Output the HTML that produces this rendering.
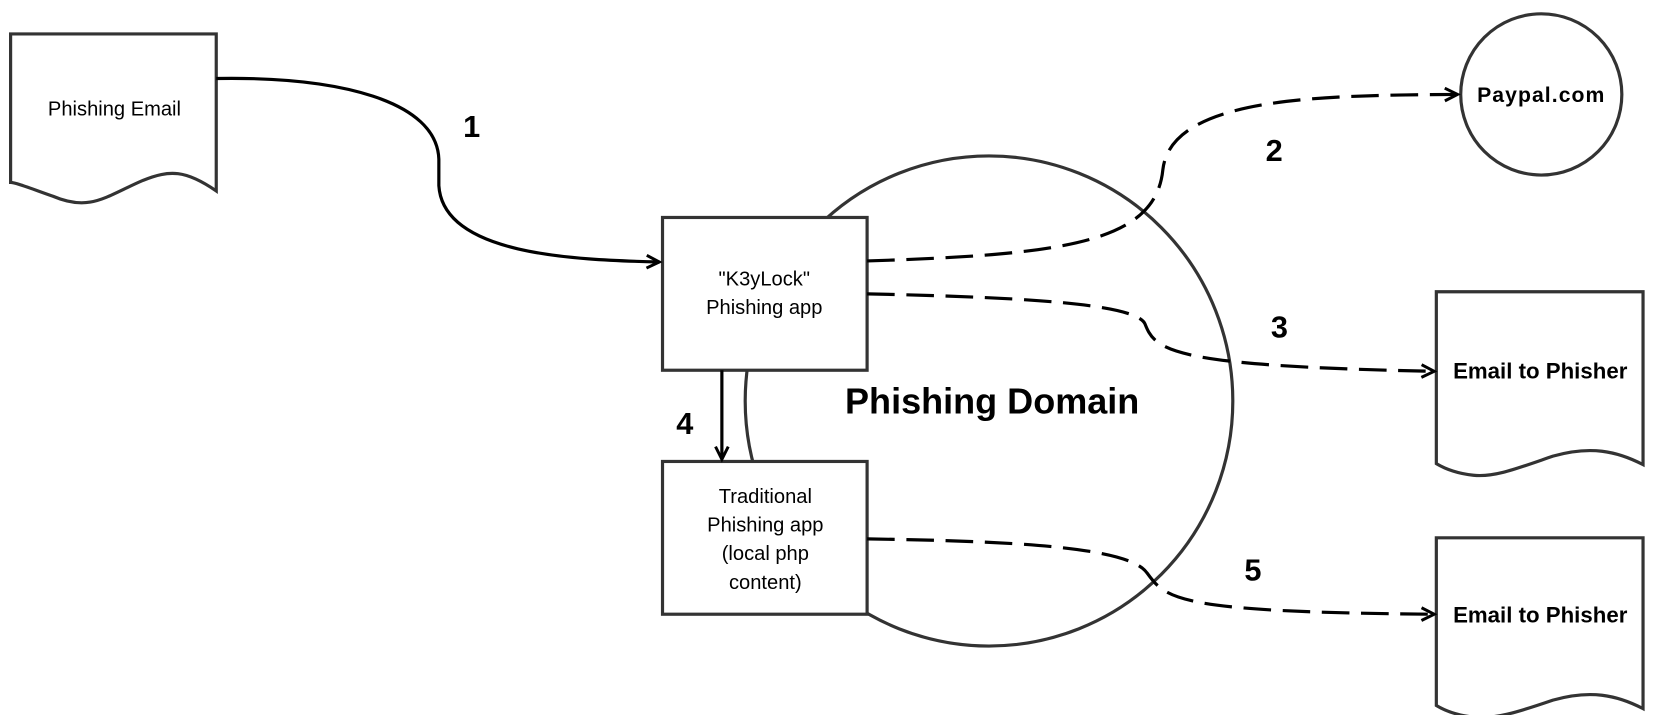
<!DOCTYPE html>
<html><head><style>
html,body{margin:0;padding:0;background:#fff;}
svg{display:block;}
text{font-family:"Liberation Sans",Arial,sans-serif;fill:#000;}
</style></head><body>
<svg width="1660" height="715" viewBox="0 0 1566 674" preserveAspectRatio="none" xmlns="http://www.w3.org/2000/svg">
<defs>
<marker id="a" markerWidth="16" markerHeight="16" refX="13" refY="8" orient="auto" markerUnits="userSpaceOnUse">
<path d="M1,2 L13,8 L1,14" fill="none" stroke="#000" stroke-width="2.8"/>
</marker>
</defs>
<g fill="#fff" stroke="#333" stroke-width="3">
<ellipse cx="933" cy="378" rx="230" ry="231"/>
<path d="M10,32 H204 V180 C175,160 160,160 135,170 C100,185 85,200 50,185 C30,178 15,172 10,172 Z"/>
<rect x="625" y="205" width="193" height="144"/>
<rect x="625" y="435" width="193" height="144"/>
<ellipse cx="1454" cy="89" rx="76" ry="76"/>
<path d="M1355,275 H1550 V438 C1525,425 1500,420 1465,430 C1430,442 1410,450 1390,448 C1372,446 1360,440 1355,437 Z"/>
<path d="M1355,507 H1550 V668 C1525,655 1500,650 1465,660 C1430,672 1410,678 1390,676 C1372,674 1360,668 1355,665 Z"/>
</g>
<g fill="none" stroke="#000" stroke-width="3">
<path d="M204,74 C320,72 412,95 414,150 L414,175 C418,240 540,245 622,247" marker-end="url(#a)"/>
<path d="M681,349 V433" marker-end="url(#a)"/>
<g stroke-dasharray="26,11">
<path d="M818,246 C1000,240 1090,230 1097,160 C1105,90 1250,90 1375,89" marker-end="url(#a)"/>
<path d="M818,277 C950,280 1070,285 1080,305 C1090,330 1100,345 1353,350" marker-end="url(#a)"/>
<path d="M818,508 C950,510 1065,515 1082,540 C1100,565 1110,577 1353,579" marker-end="url(#a)"/>
</g>
</g>
<text x="108" y="109" font-size="19" text-anchor="middle">Phishing Email</text>
<text x="721" y="269" font-size="19" text-anchor="middle">"K3yLock"</text>
<text x="721" y="296" font-size="19" text-anchor="middle">Phishing app</text>
<text x="722" y="474" font-size="19" text-anchor="middle">Traditional</text>
<text x="722" y="501" font-size="19" text-anchor="middle">Phishing app</text>
<text x="722" y="528" font-size="19" text-anchor="middle">(local php</text>
<text x="722" y="555" font-size="19" text-anchor="middle">content)</text>
<text x="936" y="390" font-size="34" font-weight="bold" text-anchor="middle">Phishing Domain</text>
<text x="1454" y="96" font-size="20" font-weight="bold" letter-spacing="1" text-anchor="middle">Paypal.com</text>
<text x="1453" y="357" font-size="21" font-weight="bold" text-anchor="middle">Email to Phisher</text>
<text x="1453" y="587" font-size="21" font-weight="bold" text-anchor="middle">Email to Phisher</text>
<g font-size="29" font-weight="bold" text-anchor="middle">
<text x="445" y="129">1</text>
<text x="1202" y="152">2</text>
<text x="1207" y="318">3</text>
<text x="646" y="409">4</text>
<text x="1182" y="547">5</text>
</g>
</svg>
</body></html>
